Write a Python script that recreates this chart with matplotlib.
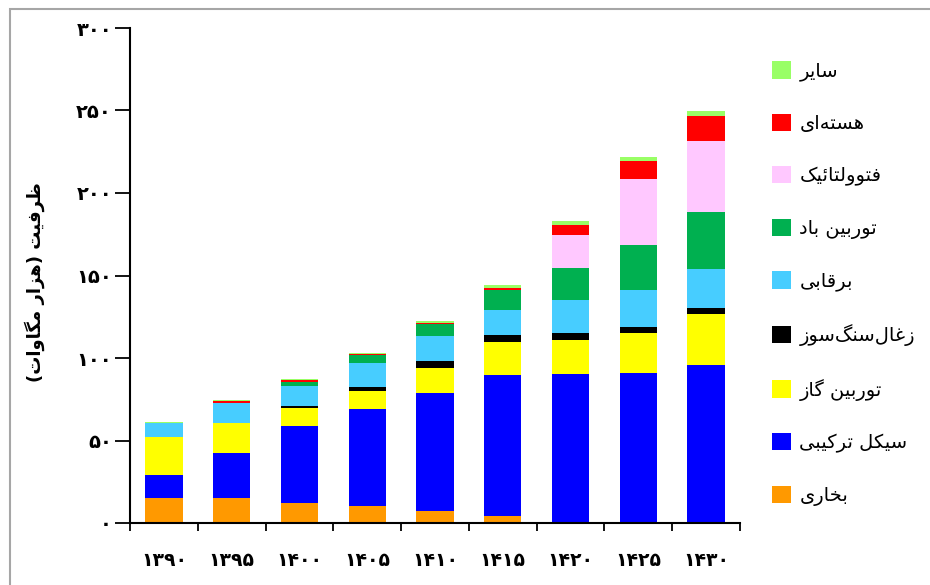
import numpy as np
import matplotlib
matplotlib.use("Agg")
import matplotlib.pyplot as plt
from matplotlib.patches import Rectangle

# Years (solar calendar) and installed capacity per source, thousand MW
years = [1390, 1395, 1400, 1405, 1410, 1415, 1420, 1425, 1430]
steam = [15.3, 15.0, 12.3, 10.3, 7.5, 4.0, 0.5, 0, 0]
combined_cycle = [13.8, 27.2, 46.7, 58.8, 71.5, 85.7, 89.8, 90.9, 95.8]
gas_turbine = [22.8, 18.2, 10.9, 11.1, 15.1, 20.2, 20.6, 24.3, 31.0]
coal = [0, 0, 1.0, 2.4, 4.1, 4.2, 4.1, 3.6, 3.5]
hydro = [8.7, 12.1, 12.1, 14.6, 15.1, 15.0, 20.2, 22.4, 23.5]
wind = [0, 0.5, 2.6, 4.4, 7.1, 12.1, 19.3, 27.3, 34.5]
solar_pv = [0, 0, 0, 0, 0, 0, 20.0, 40.0, 43.4]
nuclear = [0, 1.0, 1.0, 1.0, 1.0, 1.0, 5.9, 10.9, 15.2]
other = [0.4, 0.4, 0.4, 0.4, 0.8, 2.0, 2.4, 2.6, 2.6]

series_names = ["بخاری", "سیکل ترکیبی", "توربین گاز", "زغال‌سنگ‌سوز", "برقابی",
                "توربین باد", "فتوولتائیک", "هسته‌ای", "سایر"]
series_colors = ["#FF9900", "#0000FF", "#FFFF00", "#000000", "#47CDFF",
                 "#00B050", "#FFC8FF", "#FF0000", "#99FF66"]
y_label = "ظرفیت (هزار مگاوات)"

# isolated, final, initial, medial presentation forms
FORMS = {
    "ا": (0xFE8D, 0xFE8E), "د": (0xFEA9, 0xFEAA), "ر": (0xFEAD, 0xFEAE),
    "ز": (0xFEAF, 0xFEB0), "و": (0xFEED, 0xFEEE),
    "ب": (0xFE8F, 0xFE90, 0xFE91, 0xFE92), "ت": (0xFE95, 0xFE96, 0xFE97, 0xFE98),
    "خ": (0xFEA5, 0xFEA6, 0xFEA7, 0xFEA8), "س": (0xFEB1, 0xFEB2, 0xFEB3, 0xFEB4),
    "ظ": (0xFEC5, 0xFEC6, 0xFEC7, 0xFEC8), "غ": (0xFECD, 0xFECE, 0xFECF, 0xFED0),
    "ف": (0xFED1, 0xFED2, 0xFED3, 0xFED4), "ق": (0xFED5, 0xFED6, 0xFED7, 0xFED8),
    "ل": (0xFEDD, 0xFEDE, 0xFEDF, 0xFEE0), "م": (0xFEE1, 0xFEE2, 0xFEE3, 0xFEE4),
    "ن": (0xFEE5, 0xFEE6, 0xFEE7, 0xFEE8), "ه": (0xFEE9, 0xFEEA, 0xFEEB, 0xFEEC),
    "ئ": (0xFE89, 0xFE8A, 0xFE8B, 0xFE8C), "ی": (0xFBFC, 0xFBFD, 0xFBFE, 0xFBFF),
    "ک": (0xFB8E, 0xFB8F, 0xFB90, 0xFB91), "گ": (0xFB92, 0xFB93, 0xFB94, 0xFB95),
}


def shape_fa(text):
    """Join Persian letters and put them in visual (left to right) order."""
    out = []
    for i, c in enumerate(text):
        if c not in FORMS:
            out.append(c)
            continue
        prev = text[i - 1] if i > 0 else None
        nxt = text[i + 1] if i + 1 < len(text) else None
        join_prev = prev in FORMS and len(FORMS[prev]) == 4
        join_next = len(FORMS[c]) == 4 and nxt in FORMS
        f = FORMS[c]
        if join_prev and join_next:
            code = f[3]
        elif join_prev:
            code = f[1]
        elif join_next:
            code = f[2]
        else:
            code = f[0]
        out.append(chr(code))
    s = "".join(out).replace("\u200c", "")
    mirror = {"(": ")", ")": "("}
    return "".join(mirror.get(c, c) for c in reversed(s))


def fa_digits(n):
    return "".join(chr(0x06F0 + int(d)) for d in str(n))


plt.rcParams["font.family"] = ["DejaVu Sans"]

fig = plt.figure(figsize=(9.3, 5.85), dpi=100)
ax = fig.add_axes([130 / 930, 62 / 585, 610 / 930, 495 / 585])

data = [steam, combined_cycle, gas_turbine, coal, hydro, wind, solar_pv, nuclear, other]
x = np.arange(len(years))
bottom = np.zeros(len(years))
handles = []
for vals, name, col in zip(data, series_names, series_colors):
    b = ax.bar(x, vals, width=0.55, bottom=bottom, color=col, label=shape_fa(name))
    handles.append(b)
    bottom += np.array(vals)

ax.set_xlim(-0.5, len(years) - 0.5)
ax.set_ylim(0, 300)

ax.spines[["top", "right"]].set_visible(False)
ax.spines[["left", "bottom"]].set_linewidth(1.5)

ax.set_yticks(range(0, 301, 50))
ax.set_yticklabels([fa_digits(v) for v in range(0, 301, 50)], fontsize=14, fontweight="bold")
ax.tick_params(axis="y", length=11, width=1.3, pad=2)

ax.set_xticks(np.arange(-0.5, len(years), 1))
ax.set_xticklabels([])
ax.tick_params(axis="x", which="major", length=6, width=1.3)
ax.set_xticks(x, minor=True)
ax.set_xticklabels([fa_digits(y) for y in years], minor=True, fontsize=13.5, fontweight="bold")
ax.tick_params(axis="x", which="minor", length=0, pad=20)

fig.text(35 / 930, 1 - 282 / 585, shape_fa(y_label), rotation=90, fontsize=13,
         fontweight="bold", ha="center", va="center")

ax.legend(handles[::-1], [shape_fa(n) for n in series_names[::-1]],
          loc="upper left", bbox_to_anchor=(754 / 930, 1 - 44 / 585),
          bbox_transform=fig.transFigure, frameon=False, fontsize=14,
          handlelength=0.98, handleheight=0.98, labelspacing=1.68, handletextpad=0.45)

# grey outer frame
fig.add_artist(Rectangle((10 / 930, -0.1), 1.0, (585 - 9) / 585 + 0.1,
                         transform=fig.transFigure, fill=False,
                         edgecolor="#a6a6a6", linewidth=1.5))

fig.savefig("out.png", dpi=100)
